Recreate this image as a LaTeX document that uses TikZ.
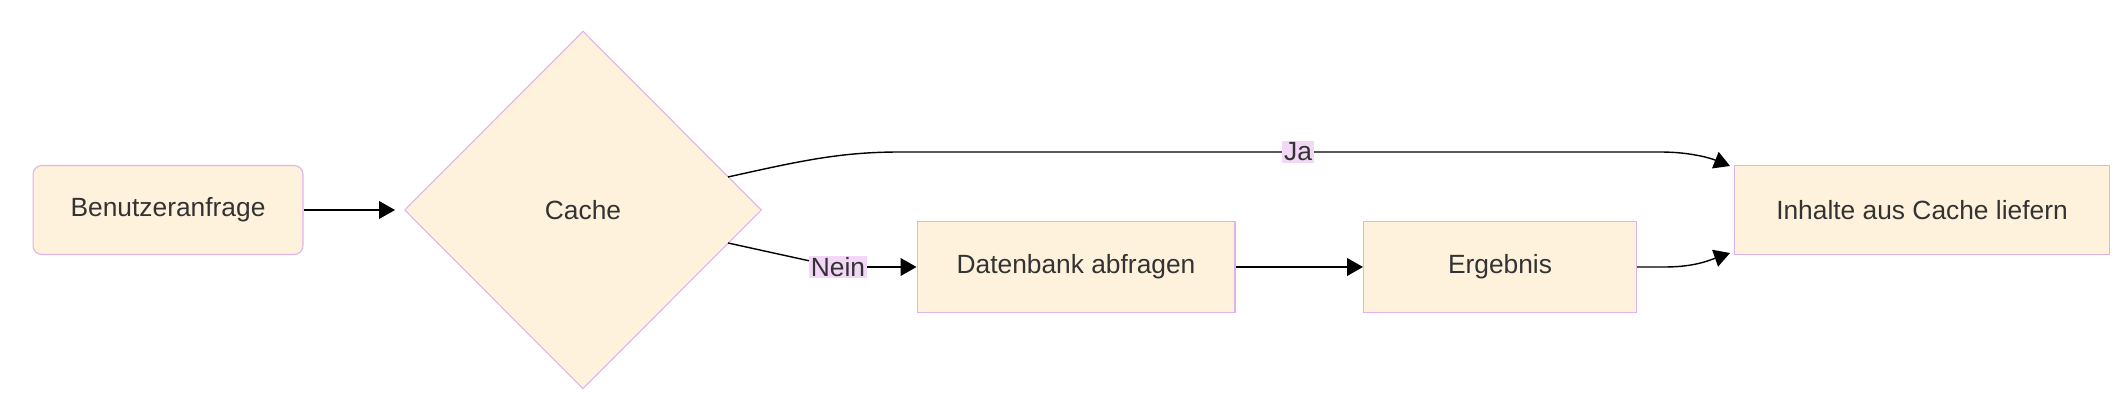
\documentclass[tikz,border=0pt]{standalone}
\usepackage{fontspec}
\setmainfont{Liberation Sans}
\usetikzlibrary{shapes.geometric,arrows.meta}
\definecolor{fillc}{HTML}{FFF2DC}
\definecolor{borc}{HTML}{DDB3EA}
\definecolor{labc}{HTML}{F2D8F6}
\definecolor{txt}{HTML}{333333}
\begin{document}
\begin{tikzpicture}[x=0.02cm,y=-0.02cm,
  box/.style={draw=borc,fill=fillc,line width=0.6pt,inner sep=0pt,text=txt,font=\fontsize{15}{18}\selectfont},
  lab/.style={fill=labc,inner sep=1pt,text=txt,font=\fontsize{15}{18}\selectfont},
  arr/.style={line width=0.8pt,-{Triangle[length=9pt,width=10pt]}}]
\useasboundingbox (0,0) rectangle (2126,404);
\node[box,rounded corners=5pt,minimum width=5.4cm,minimum height=1.78cm] (b) at (168,210) {Benutzeranfrage};
\node[box,diamond,minimum width=7.14cm,minimum height=7.16cm,aspect=1] (c) at (583,210) {Cache};
\node[box,minimum width=7.5cm,minimum height=1.78cm] (i) at (1922,210) {Inhalte aus Cache liefern};
\node[box,minimum width=6.36cm,minimum height=1.82cm] (d) at (1076,267) {Datenbank abfragen};
\node[box,minimum width=5.46cm,minimum height=1.82cm] (e) at (1500,267) {Ergebnis};
\coordinate (c1) at (728,177);
\coordinate (c2) at (728,243);
\draw[arr] (b) -- (395,210);
\draw[arr] (c1) .. controls (800,161) and (840,152) .. (900,152) -- (1660,152) .. controls (1690,152) and (1710,158) .. (1730,166);
\node[lab] (ja) at (1298,152) {Ja};
\draw[line width=0.8pt] (c2) -- (810,261);
\node[lab] (n) at (838,267) {Nein};
\draw[arr] (n.east) -- (d.west);
\draw[arr] (d) -- (e);
\draw[arr] (e.east) -- (1665,267) .. controls (1695,267) and (1710,260) .. (1730,253);
\end{tikzpicture}
\end{document}
